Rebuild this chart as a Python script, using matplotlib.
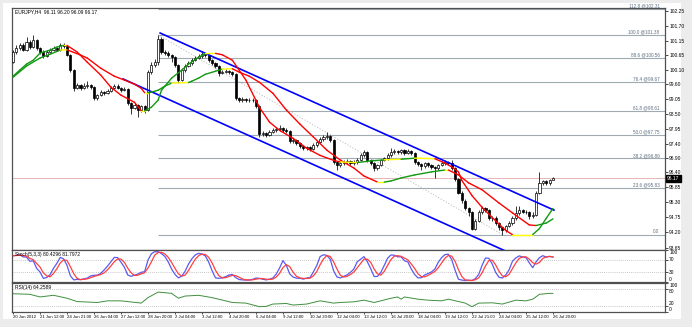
import matplotlib
matplotlib.use("Agg")
import matplotlib.pyplot as plt
import numpy as np
import pandas as pd
from matplotlib.collections import LineCollection
from matplotlib.patches import Rectangle
from matplotlib.transforms import blended_transform_factory

plt.rcParams["font.family"] = ["Liberation Sans", "DejaVu Sans"]

# EURJPY H4 candles, bar 0 = 20 Jun 2012 00:00
first_open = 100.40
closes = [
    100.76, 100.90, 101.01, 100.83, 101.12, 100.94, 101.19, 100.90, 100.76, 100.61,
    100.76, 100.83, 100.90, 100.83, 101.01, 100.97, 100.65, 100.10, 99.44, 99.55,
    99.44, 99.52, 99.55, 99.48, 99.08, 99.19, 99.30, 99.26, 99.34, 99.44,
    99.52, 99.44, 99.37, 99.41, 98.90, 98.72, 98.83, 98.64, 98.79, 98.64,
    100.03, 100.28, 100.39, 101.25, 100.76, 100.72, 100.65, 100.57, 100.28, 99.74,
    100.10, 100.25, 100.36, 100.46, 100.54, 100.61, 100.68, 100.65, 100.46, 100.36,
    100.25, 99.99, 100.03, 100.06, 100.03, 99.95, 99.08, 99.01, 99.04, 99.01,
    99.01, 99.01, 98.79, 97.77, 97.80, 97.73, 97.84, 97.91, 97.95, 97.99,
    97.91, 97.88, 97.51, 97.55, 97.44, 97.33, 97.26, 97.30, 97.22, 97.37,
    97.48, 97.59, 97.66, 97.70, 97.55, 96.75, 96.64, 96.71, 96.75, 96.78,
    96.71, 96.75, 96.82, 97.00, 97.11, 96.82, 96.71, 96.53, 96.64, 96.82,
    96.89, 97.00, 97.11, 97.15, 97.11, 97.19, 97.08, 97.15, 97.08, 96.75,
    96.67, 96.60, 96.71, 96.64, 96.57, 96.53, 96.64, 96.71, 96.75, 96.71,
    96.53, 96.13, 95.65, 95.36, 95.07, 94.93, 94.34, 94.63, 94.93, 95.07,
    95.00, 94.71, 94.74, 94.53, 94.38, 94.27, 94.42, 94.53, 94.71, 94.89,
    95.00, 94.96, 94.93, 94.78, 94.85, 95.65, 95.98, 96.06, 95.98, 96.11,
    96.17,
]
highs = [
    100.85, 101.00, 101.10, 101.08, 101.30, 101.20, 101.38, 101.25, 100.95, 100.82,
    100.85, 100.92, 100.98, 100.95, 101.10, 101.08, 101.00, 100.70, 100.15, 99.65,
    99.60, 99.62, 99.70, 99.60, 99.52, 99.25, 99.38, 99.36, 99.42, 99.52,
    99.60, 99.58, 99.48, 99.50, 99.45, 98.95, 98.90, 98.88, 98.85, 98.82,
    100.10, 100.40, 100.50, 101.38, 101.30, 100.85, 100.78, 100.70, 100.62, 100.32,
    100.18, 100.32, 100.45, 100.55, 100.62, 100.70, 100.78, 100.74, 100.70, 100.52,
    100.40, 100.28, 100.10, 100.14, 100.12, 100.08, 99.98, 99.12, 99.12, 99.10,
    99.08, 99.10, 99.05, 98.82, 97.88, 97.85, 97.92, 97.98, 98.02, 98.12,
    98.03, 97.98, 97.92, 97.62, 97.60, 97.48, 97.38, 97.36, 97.34, 97.44,
    97.55, 97.66, 97.74, 97.84, 97.76, 97.60, 96.80, 96.78, 96.82, 96.86,
    96.84, 96.82, 96.90, 97.08, 97.20, 97.15, 96.86, 96.75, 96.70, 96.88,
    96.96, 97.08, 97.26, 97.22, 97.20, 97.25, 97.22, 97.22, 97.18, 97.12,
    96.80, 96.72, 96.76, 96.76, 96.68, 96.62, 96.70, 96.78, 96.82, 96.80,
    96.85, 96.58, 96.18, 95.70, 95.42, 95.12, 94.98, 94.70, 95.00, 95.15,
    95.12, 95.04, 94.80, 94.78, 94.58, 94.40, 94.48, 94.60, 94.78, 95.15,
    95.15, 95.06, 95.02, 94.97, 94.95, 95.70, 96.38, 96.12, 96.10, 96.16,
    96.20,
]
lows = [
    100.35, 100.70, 100.85, 100.78, 100.80, 100.88, 100.90, 100.85, 100.70, 100.55,
    100.58, 100.72, 100.78, 100.78, 100.80, 100.90, 100.60, 100.02, 99.35, 99.40,
    99.38, 99.40, 99.45, 99.42, 99.00, 99.02, 99.15, 99.20, 99.22, 99.30,
    99.40, 99.40, 99.32, 99.33, 98.85, 98.50, 98.68, 98.40, 98.58, 98.55,
    98.60, 99.95, 100.20, 100.30, 100.70, 100.65, 100.58, 100.40, 100.20, 99.65,
    99.70, 100.05, 100.20, 100.30, 100.42, 100.50, 100.56, 100.58, 100.40, 100.30,
    100.18, 99.90, 99.95, 99.98, 99.96, 99.88, 99.00, 98.95, 98.96, 98.95,
    98.95, 98.94, 98.72, 97.68, 97.70, 97.66, 97.70, 97.80, 97.86, 97.90,
    97.86, 97.82, 97.44, 97.46, 97.38, 97.26, 97.20, 97.20, 97.16, 97.18,
    97.32, 97.44, 97.54, 97.60, 97.50, 96.68, 96.46, 96.58, 96.66, 96.70,
    96.66, 96.66, 96.70, 96.78, 96.96, 96.76, 96.64, 96.44, 96.48, 96.60,
    96.78, 96.85, 96.96, 97.06, 97.05, 97.06, 97.02, 97.04, 97.02, 96.70,
    96.60, 96.46, 96.56, 96.58, 96.50, 96.18, 96.48, 96.60, 96.66, 96.64,
    96.46, 96.06, 95.58, 95.28, 95.00, 94.80, 94.28, 94.30, 94.58, 94.88,
    94.94, 94.64, 94.62, 94.46, 94.30, 94.12, 94.22, 94.38, 94.48, 94.66,
    94.85, 94.90, 94.86, 94.70, 94.72, 94.80, 95.60, 95.94, 95.92, 95.94,
    96.09,
]

date_labels = [
    "20 Jun 2012", "21 Jun 12:00", "24 Jun 21:00", "26 Jun 04:00", "27 Jun 12:00",
    "28 Jun 20:00", "2 Jul 04:00", "3 Jul 12:00", "4 Jul 20:00", "6 Jul 04:00",
    "9 Jul 12:00", "10 Jul 20:00", "12 Jul 04:00", "13 Jul 12:00", "16 Jul 20:00",
    "18 Jul 04:00", "19 Jul 12:00", "22 Jul 21:00", "24 Jul 04:00", "25 Jul 12:00",
    "26 Jul 20:00",
]
price_ticks = [102.25, 101.70, 101.15, 100.65, 100.10, 99.60, 99.05, 98.50, 97.95,
               97.40, 96.90, 96.40, 95.85, 95.30, 94.75, 94.20, 93.65]

# Fibonacci retracement drawn from the 28 Jun high to the 24 Jul low
fib_pct = ["112.8", "100.0", "88.6", "76.4", "61.8", "50.0", "38.2", "23.6", "0.0"]
fib_price = [102.31, 101.38, 100.56, 99.67, 98.61, 97.75, 96.89, 95.83, 94.12]
fib_anchor_bars = [43, 145]
fib_anchor_prices = [101.38, 94.12]

# descending channel (bar, price) anchors
channel_upper = [(43.6, 101.45), (160.3, 95.01)]
channel_lower = [(32.6, 99.78), (160.3, 92.73)]

# the two slope-coloured averages
fast_bars = [0, 2, 4, 6, 8, 11, 13, 15, 16, 19, 22, 26, 29, 32, 36, 38, 39, 41, 43, 44,
             47, 50, 52, 55, 57, 60, 62, 65, 69, 73, 76, 79, 83, 87, 91, 95, 97, 102,
             106, 110, 115, 119, 125, 128, 130, 132, 133, 136, 139, 142, 146, 148, 154,
             156, 158, 160]
fast_vals = [99.88, 100.10, 100.32, 100.46, 100.72, 100.83, 100.94, 101.00, 101.00,
             100.76, 100.39, 99.92, 99.48, 99.19, 98.93, 98.62, 98.62, 98.75, 99.01,
             99.37, 99.81, 100.10, 100.32, 100.57, 100.70, 100.71, 100.66, 100.46,
             99.74, 98.75, 98.21, 97.91, 97.62, 97.26, 97.00, 96.82, 96.76, 96.74,
             96.80, 96.84, 96.86, 96.90, 96.88, 96.72, 96.58, 96.40, 96.09, 95.54,
             95.11, 94.74, 94.27, 94.12, 94.12, 94.34, 94.71, 95.07]
slow_bars = [0, 4, 8, 11, 14, 16, 20, 22, 26, 30, 33, 36, 38, 39, 40, 41, 43, 45, 47,
             52, 53, 55, 57, 60, 62, 65, 67, 70, 73, 77, 81, 85, 89, 93, 97, 101, 104,
             108, 110, 112, 115, 119, 124, 128, 129, 132, 135, 139, 144, 148, 153, 155,
             158, 160]
slow_vals = [99.84, 100.25, 100.54, 100.68, 100.83, 100.84, 100.65, 100.54, 100.17,
             99.88, 99.74, 99.59, 99.44, 99.28, 99.28, 99.30, 99.37, 99.52, 99.63,
             99.65, 99.70, 99.81, 99.95, 100.06, 100.14, 100.15, 100.03, 99.88, 99.66,
             99.26, 98.65, 98.14, 97.67, 97.19, 96.83, 96.54, 96.25, 96.03, 96.03,
             96.07, 96.18, 96.29, 96.40, 96.47, 96.47, 96.29, 96.00, 95.75, 95.27,
             94.91, 94.47, 94.45, 94.54, 94.69]

# RSI(14) readings
rsi_bars = [0, 5, 8, 12, 16, 19, 25, 28, 32, 38, 40, 43, 47, 49, 51, 55, 59, 65, 69,
            73, 75, 77, 81, 83, 87, 91, 95, 97, 101, 104, 107, 109, 112, 114, 115, 116,
            120, 123, 127, 129, 134, 136, 138, 142, 145, 149, 152, 154, 156, 159, 160]
rsi_vals = [63.0, 61.0, 51.9, 57.6, 47.5, 36.0, 32.8, 38.5, 38.5, 30.7, 49.6, 68.7,
            64.3, 47.5, 55.0, 57.6, 49.6, 32.8, 30.7, 18.3, 19.3, 27.4, 29.4, 24.0,
            27.4, 38.5, 30.7, 32.8, 35.1, 40.8, 32.8, 38.5, 47.5, 51.9, 44.2, 51.9,
            44.2, 40.8, 38.5, 44.2, 30.7, 18.3, 30.7, 31.7, 27.4, 40.8, 38.5, 44.2,
            61.0, 64.3, 64.26]

last_price = 96.17

W, H = 692, 327
fig = plt.figure(figsize=(W / 100, H / 100), dpi=100, facecolor="#ececec")
fig.patches.append(Rectangle((3 / W, 1 - 319 / H), 678 / W, 316 / H,
                             transform=fig.transFigure, facecolor="white",
                             edgecolor="none", zorder=-5))


def px_axes(x0, y0, x1, y1):
    return fig.add_axes([x0 / W, 1 - y1 / H, (x1 - x0) / W, (y1 - y0) / H])


ax = px_axes(12, 8, 665, 250)
ax_st = px_axes(12, 250, 665, 282)
ax_rsi = px_axes(12, 283, 665, 312)

n = len(closes)
x = np.arange(n)
c = np.array(closes)
o = np.r_[first_open, c[:-1]]
h = np.array(highs)
lo = np.array(lows)
xmax = 193.2
font = 3.5

for a in (ax, ax_st, ax_rsi):
    a.set_xlim(-0.3, xmax)
    for s in a.spines.values():
        s.set_color("#505050")
        s.set_linewidth(0.9)
    a.tick_params(axis="both", labelsize=font, length=1.8, width=0.5, pad=1.2,
                  colors="black")
    a.yaxis.tick_right()
    a.set_xticks([])

# --- price panel
ax.set_ylim(93.56, 102.36)
ax.set_yticks(price_ticks)
ax.set_yticklabels([f"{p:.2f}" for p in price_ticks])

ax.hlines(fib_price, fib_anchor_bars[0], xmax, color="#9faab3", lw=0.8, zorder=1)
for pct, p in zip(fib_pct, fib_price):
    txt = pct if pct == "0.0" else f"{pct} @{p:.2f}"
    ax.text(191.6, p + 0.02, txt, ha="right", va="bottom", fontsize=3.3,
            color="#5c6e80", zorder=2)
ax.plot(fib_anchor_bars, fib_anchor_prices, color="#b8b8b8", lw=0.6,
        ls=(0, (1.5, 2)), zorder=1)
ax.axhline(last_price, color="#e2aaaa", lw=0.6, zorder=1)

up = c >= o
ax.vlines(x, lo, h, color="black", lw=0.55, zorder=3)
ax.bar(x[up], (c - o)[up], bottom=o[up], width=0.62, color="white",
       edgecolor="black", lw=0.5, zorder=4)
ax.bar(x[~up], (c - o)[~up], bottom=o[~up], width=0.62, color="black",
       edgecolor="black", lw=0.5, zorder=4)

for (x0, y0), (x1, y1) in (channel_upper, channel_lower):
    ax.plot([x0, x1], [y0, y1], color="#0000ff", lw=1.2, zorder=5)


def sloped_line(a, bars, vals):
    bars = np.asarray(bars, float)
    vals = np.asarray(vals, float)
    pts = np.column_stack([bars, vals])
    segs = np.stack([pts[:-1], pts[1:]], axis=1)
    slope = np.diff(vals) / np.diff(bars)
    cols = np.where(np.abs(slope) < 0.009, "#ffff00",
                    np.where(slope > 0, "#119911", "#ff0000"))
    a.add_collection(LineCollection(segs, colors=cols, lw=1.0, zorder=6,
                                    capstyle="round", joinstyle="round"))


sloped_line(ax, slow_bars, slow_vals)
sloped_line(ax, fast_bars, fast_vals)

tr = blended_transform_factory(ax.transAxes, ax.transData)
ax.text(1.003, last_price, f"{last_price:.2f}", transform=tr, color="white",
        fontsize=font, va="center", ha="left", zorder=10,
        bbox=dict(boxstyle="square,pad=0.25", fc="black", ec="black"))
ax.text(0.005, 0.993, f"EURJPY,H4  96.11 96.20 96.09 {last_price:.2f}",
        transform=ax.transAxes, fontsize=font, va="top", ha="left")

# --- Stochastic(5,3,3)
hs, ls_, cs = pd.Series(h), pd.Series(lo), pd.Series(c)
hh = hs.rolling(5, min_periods=1).max()
ll = ls_.rolling(5, min_periods=1).min()
k = 100 * (cs - ll).rolling(3, min_periods=1).sum() / \
    (hh - ll).rolling(3, min_periods=1).sum()
d = k.rolling(3, min_periods=1).mean()

ax_st.set_ylim(0, 100)
for lvl in (30, 70):
    ax_st.axhline(lvl, color="#b5b5b5", lw=0.6, ls=(0, (1, 1.5)))
ax_st.plot(x, k, color="#5a5af0", lw=0.9)
ax_st.plot(x, d, color="#ff4040", lw=0.9)
ax_st.set_yticks([0, 30, 70, 100])
ax_st.set_yticklabels(["0", "30", "70", "100"])
for lab, va in zip(ax_st.get_yticklabels(), ["bottom", "center", "center", "top"]):
    lab.set_verticalalignment(va)
ax_st.text(0.005, 0.93, "Stoch(5,3,3) 80.4296 81.7972", transform=ax_st.transAxes,
           fontsize=font, va="top", ha="left")

# --- RSI(14)
ax_rsi.set_ylim(0, 100)
for lvl in (20, 80):
    ax_rsi.axhline(lvl, color="#b5b5b5", lw=0.6, ls=(0, (1, 1.5)))
ax_rsi.plot(rsi_bars, rsi_vals, color="#3f8f3f", lw=0.7)
ax_rsi.set_yticks([0, 20, 80, 100])
ax_rsi.set_yticklabels(["0", "20", "80", "100"])
for lab, va in zip(ax_rsi.get_yticklabels(), ["bottom", "bottom", "top", "top"]):
    lab.set_verticalalignment(va)
ax_rsi.text(0.005, 0.93, "RSI(14) 64.2589", transform=ax_rsi.transAxes,
            fontsize=font, va="top", ha="left")

tick_bars = np.arange(0, n, 8)
ax_rsi.set_xticks(tick_bars)
ax_rsi.set_xticklabels(date_labels, ha="left", fontsize=3.1)
ax_rsi.tick_params(axis="x", length=1.2, pad=0.6)

fig.savefig("out.png", dpi=100, facecolor=fig.get_facecolor())
